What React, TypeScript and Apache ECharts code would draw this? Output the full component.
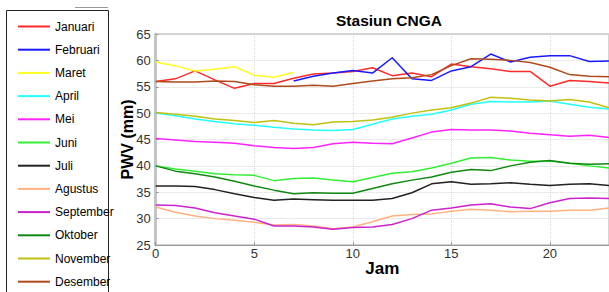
import React, { useEffect, useRef } from "react";
import * as echarts from "echarts";

const hours = [0, 1, 2, 3, 4, 5, 6, 7, 8, 9, 10, 11, 12, 13, 14, 15, 16, 17, 18, 19, 20, 21, 22, 23];
const months = ["Januari", "Februari", "Maret", "April", "Mei", "Juni", "Juli", "Agustus", "September", "Oktober", "November", "Desember"];
const colors = ["#ff2a2a", "#1a1aff", "#ffff22", "#22ffff", "#ff22ff", "#33ee33", "#222222", "#ffb27f", "#cc22cc", "#118811", "#c0c010", "#b04a1a"];

const januari = [56.0, 56.5, 58.0, 56.3, 54.7, 55.6, 55.6, 56.6, 57.4, 57.6, 57.9, 58.6, 57.1, 57.6, 56.9, 59.3, 58.8, 58.4, 57.9, 57.9, 55.1, 56.2, 56.0, 55.7];
const februari = [null, null, null, null, null, null, null, 56.1, 57.0, 57.6, 58.1, 57.6, 60.5, 56.5, 56.2, 58.0, 58.8, 61.2, 59.7, 60.6, 60.9, 60.9, 59.8, 59.9];
const maret = [59.7, 59.0, 58.0, 58.3, 58.8, 57.2, 56.8, 57.7, null, null, null, null, null, null, null, null, null, null, null, null, null, null, null, null];
const april = [50.0, 49.5, 48.9, 48.4, 48.0, 47.7, 47.3, 47.0, 46.8, 46.7, 46.9, 47.9, 48.9, 49.4, 49.8, 50.6, 51.7, 52.2, 52.1, 52.1, 52.3, 51.7, 51.1, 50.8];
const mei = [45.2, 44.9, 44.6, 44.5, 44.3, 43.8, 43.5, 43.3, 43.5, 44.2, 44.5, 44.3, 44.2, 45.3, 46.4, 46.9, 46.8, 46.8, 46.6, 46.2, 45.9, 45.6, 45.8, 45.4];
const juni = [40.0, 39.4, 39.0, 38.5, 38.3, 38.2, 37.2, 37.6, 37.7, 37.3, 37.0, 37.8, 38.6, 38.9, 39.6, 40.5, 41.5, 41.6, 41.1, 40.9, 40.9, 40.5, 40.0, 39.6];
const juli = [36.2, 36.2, 36.1, 35.5, 34.7, 34.0, 33.5, 33.7, 33.6, 33.5, 33.5, 33.5, 33.8, 34.9, 36.6, 37.0, 36.5, 36.6, 36.8, 36.5, 36.3, 36.5, 36.6, 36.3];
const agustus = [32.2, 31.2, 30.5, 30.0, 29.7, 29.3, 28.8, 28.9, 28.6, 28.1, 28.4, 29.4, 30.5, 30.8, 30.9, 31.4, 31.8, 31.6, 31.3, 31.4, 31.4, 31.6, 31.6, 32.0];
const september = [32.6, 32.5, 32.0, 31.1, 30.5, 29.9, 28.6, 28.6, 28.4, 28.0, 28.3, 28.4, 28.9, 30.0, 31.6, 32.0, 32.6, 32.8, 32.2, 31.9, 33.0, 33.8, 33.9, 33.8];
const oktober = [40.0, 39.0, 38.5, 37.9, 37.1, 36.2, 35.4, 34.7, 34.9, 34.8, 34.8, 35.7, 36.6, 37.3, 37.9, 38.8, 39.3, 39.1, 40.0, 40.7, 41.0, 40.5, 40.3, 40.4];
const november = [50.1, 49.8, 49.4, 48.9, 48.6, 48.2, 48.6, 48.1, 47.8, 48.3, 48.4, 48.7, 49.2, 50.0, 50.6, 51.0, 51.9, 53.0, 52.8, 52.5, 52.3, 52.6, 52.1, 51.0];
const desember = [56.0, 55.9, 55.9, 56.1, 56.0, 55.4, 55.1, 55.1, 55.3, 55.1, 55.6, 56.1, 56.5, 56.7, 57.3, 59.0, 60.3, 60.2, 60.0, 59.6, 58.7, 57.3, 57.0, 56.9];

const seriesValues = [januari, februari, maret, april, mei, juni, juli, agustus, september, oktober, november, desember];

export default function App() {
  const ref = useRef<HTMLDivElement>(null);
  useEffect(() => {
    if (!ref.current) return;
    const chart = echarts.init(ref.current, null, { renderer: "svg" });
    const font = "'Liberation Sans', Arial, sans-serif";
    chart.setOption({
      animation: false,
      backgroundColor: "#ffffff",
      title: {
        text: "Stasiun CNGA",
        left: 384,
        top: 7,
        textAlign: "center",
        textStyle: { fontFamily: font, fontSize: 15.5, fontWeight: "bold", color: "#000" },
      },
      legend: {
        orient: "vertical",
        left: 13,
        top: 14.5,
        height: 600,
        itemWidth: 32,
        itemHeight: 2,
        itemGap: 9.2,
        icon: "rect",
        data: months,
        textStyle: { fontFamily: font, fontSize: 12, color: "#000", lineHeight: 14 },
      },
      graphic: [
        {
          type: "line",
          shape: { x1: 75, y1: 7.5, x2: 108, y2: 7.5 },
          style: { stroke: "#999", lineWidth: 1 },
          z: -1,
        },
        {
          type: "rect",
          shape: { x: 6.5, y: 10.5, width: 102, height: 300 },
          style: { fill: "#ffffff", stroke: "#222", lineWidth: 1 },
          z: -1,
        },
      ],
      grid: {
        left: 155.7,
        top: 34,
        right: -3.5,
        bottom: 47,
        show: true,
        borderColor: "#aaa",
        borderWidth: 1,
      },
      xAxis: {
        type: "value",
        min: 0,
        max: 23,
        interval: 5,
        name: "Jam",
        nameLocation: "middle",
        nameGap: 15,
        nameMoveOverlap: false,
        nameTextStyle: { fontFamily: font, fontSize: 17, fontWeight: "bold", color: "#000" },
        axisLine: { lineStyle: { color: "#999", width: 1 } },
        axisTick: { inside: true, length: 3, lineStyle: { color: "#999" } },
        axisLabel: { showMaxLabel: false, fontFamily: font, fontSize: 13, color: "#333", margin: 2 },
        splitLine: { show: true, lineStyle: { color: "#d6d6d6", type: "dotted", width: 1 } },
      },
      yAxis: {
        type: "value",
        min: 25,
        max: 65,
        interval: 5,
        name: "PWV (mm)",
        nameLocation: "middle",
        nameGap: 20,
        nameMoveOverlap: false,
        nameTextStyle: { fontFamily: font, fontSize: 16, fontWeight: "bold", color: "#000" },
        axisLine: { show: true, lineStyle: { color: "#c4c4c4", width: 3 } },
        axisTick: { inside: true, length: 3, lineStyle: { color: "#999" } },
        axisLabel: { fontFamily: font, fontSize: 13, color: "#333", margin: 5 },
        splitLine: { show: true, lineStyle: { color: "#d6d6d6", type: "dotted", width: 1 } },
      },
      series: months.map((m, i) => ({
        name: m,
        type: "line",
        showSymbol: false,
        symbol: "none",
        connectNulls: false,
        color: colors[i],
        lineStyle: { color: colors[i], width: 1.5 },
        data: hours.map((h, j) => [h, seriesValues[i][j]]),
      })),
    });
    return () => chart.dispose();
  }, []);
  return <div ref={ref} style={{ position: "absolute", left: 0, top: 0, width: 609, height: 292 }} />;
}
